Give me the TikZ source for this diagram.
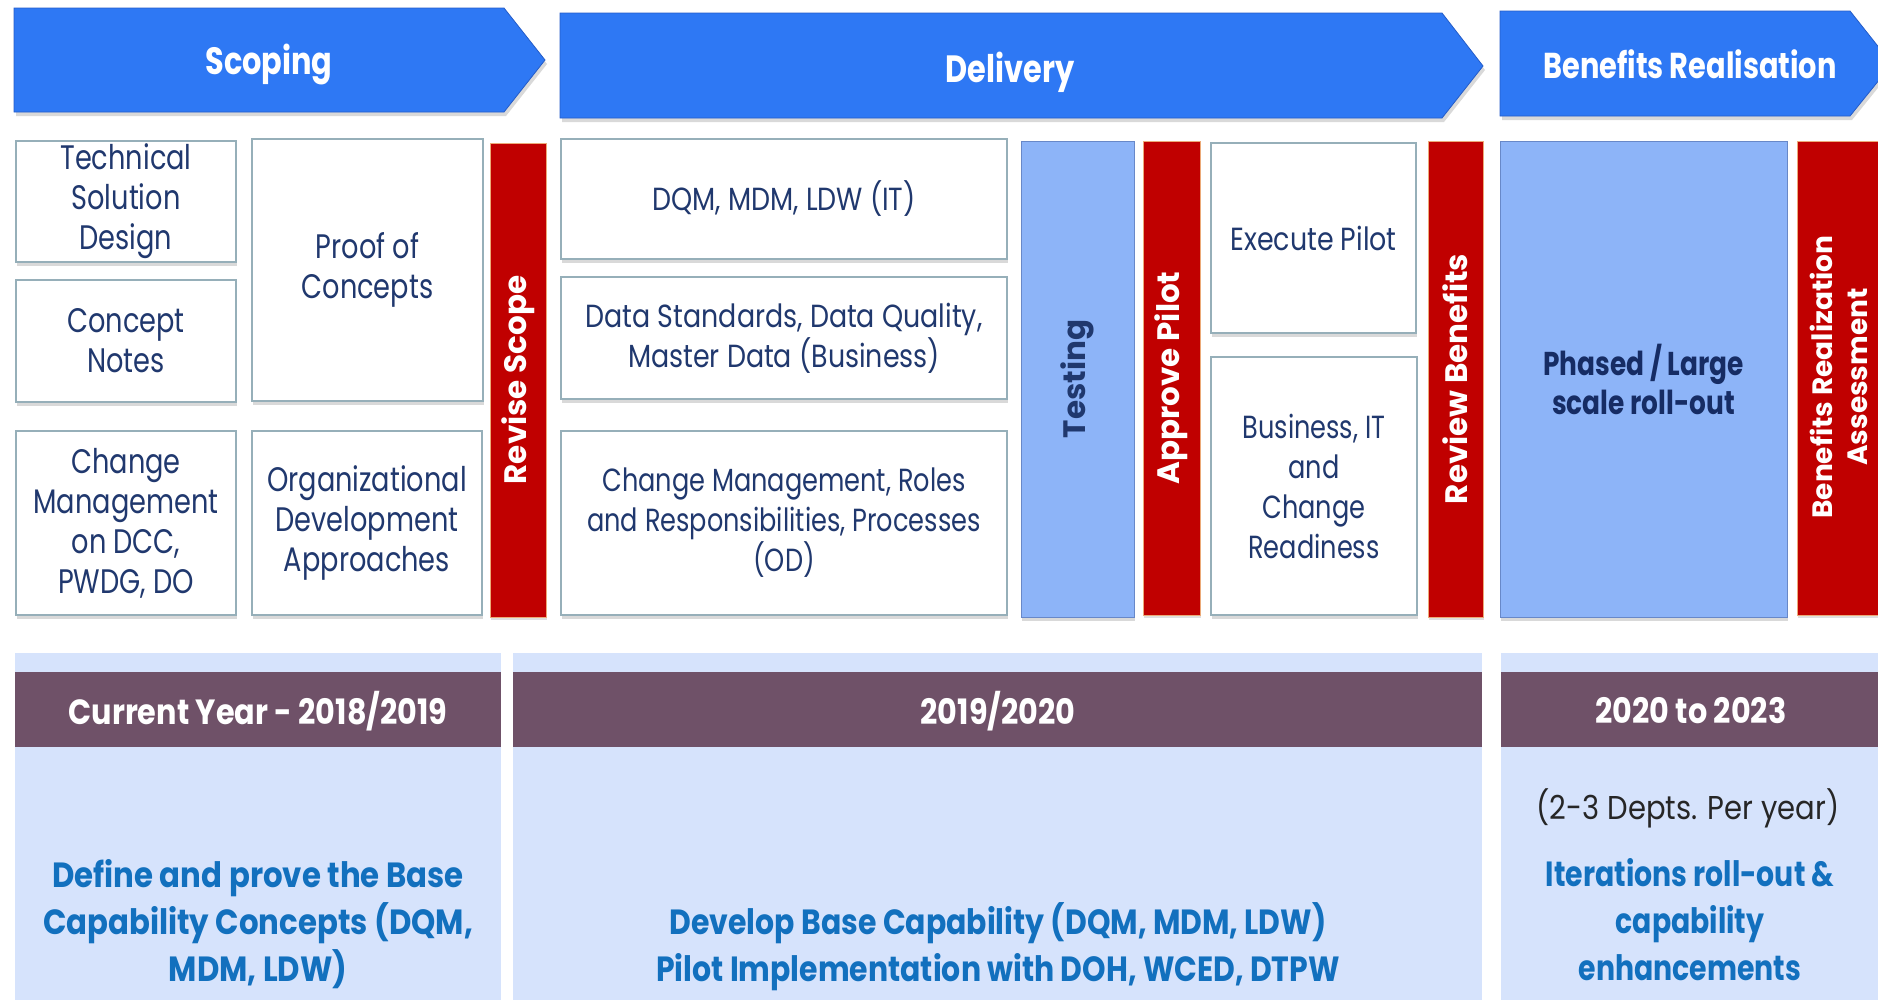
\documentclass[tikz,border=0pt]{standalone}
\usepackage{fontspec}
\newfontfamily\pf[FakeStretch=0.8]{Poppins}
\newfontfamily\pfd[FakeStretch=0.84]{Poppins}
\newfontfamily\pfh[FakeStretch=0.865]{Poppins}
\newfontfamily\pfg[FakeStretch=0.88]{Poppins}
\newfontfamily\pfgb[FakeStretch=0.855]{Poppins}
\newfontfamily\pfgc[FakeStretch=0.81]{Poppins}
\newfontfamily\pfn{Poppins}
\usetikzlibrary{shadows}
\definecolor{arrowblue}{RGB}{46,120,244}
\definecolor{arrowedge}{RGB}{36,92,200}
\definecolor{barred}{RGB}{192,0,0}
\definecolor{baredge}{RGB}{236,170,120}
\definecolor{lightbar}{RGB}{141,180,248}
\definecolor{lightbaredge}{RGB}{104,136,200}
\definecolor{boxedge}{RGB}{150,175,185}
\definecolor{navy}{RGB}{32,56,110}
\definecolor{darknavy}{RGB}{22,44,100}
\definecolor{panelblue}{RGB}{214,227,252}
\definecolor{mauve}{RGB}{111,81,104}
\definecolor{textblue}{RGB}{18,112,190}
\begin{document}
\begin{tikzpicture}[x=1pt,y=-1pt,
  phase/.style={fill=arrowblue, draw=arrowedge, line width=0.8pt,
    drop shadow={shadow xshift=2pt, shadow yshift=-4pt, opacity=0.3}},
  phasetext/.style={text=white, font=\pf\bfseries\fontsize{38}{44}\selectfont, inner sep=0pt, anchor=base},
  wbox/.style={draw=boxedge, line width=1.6pt, fill=white, inner sep=0pt, align=center,
    text=navy, font=\pf\fontsize{34}{40}\selectfont,
    drop shadow={shadow xshift=1pt, shadow yshift=-4pt, opacity=0.3}},
  dbox/.style={wbox, font=\pfd\fontsize{32}{40}\selectfont},
  redbar/.style={fill=barred, draw=baredge, line width=1pt, inner sep=0pt,
    drop shadow={shadow xshift=1pt, shadow yshift=-3pt, opacity=0.25}},
  lbar/.style={fill=lightbar, draw=lightbaredge, line width=1pt, inner sep=0pt,
    drop shadow={shadow xshift=1pt, shadow yshift=-4pt, opacity=0.3}},
  vlabel/.style={rotate=90, inner sep=0pt, align=center, font=\pfn\bfseries\fontsize{31}{37}\selectfont},
  panel/.style={fill=panelblue, draw=none},
  yearbar/.style={fill=mauve, draw=none},
  yeartext/.style={text=white, font=\pfh\bfseries\fontsize{35}{42}\selectfont, inner sep=0pt},
  goal/.style={text=textblue, align=center, inner sep=0pt, font=\pfg\bfseries\fontsize{35}{47}\selectfont}
]
\useasboundingbox (0,0) rectangle (1878,999);
\clip (0,0) rectangle (1878,999);

% phase arrows
\path[phase] (14,8) -- (504,8) -- (545,60) -- (504,112) -- (14,112) -- cycle;
\node[phasetext] (scoping) at (269,74) {Scoping};
\path[phase] (560,13) -- (1442,13) -- (1483,66) -- (1442,118) -- (560,118) -- cycle;
\node[phasetext] (delivery) at (1010,82) {Delivery};
\path[phase] (1500,11) -- (1850,11) -- (1892,64) -- (1850,116) -- (1500,116) -- cycle;
\node[phasetext, font=\pf\bfseries\fontsize{36}{42}\selectfont] (benefits) at (1690,78) {Benefits Realisation};

% scoping boxes
\node[wbox, minimum width=220, minimum height=121] (tech) at (126,201.5) {Technical\\Solution\\Design};
\node[wbox, minimum width=220, minimum height=122] (concept) at (126,341) {Concept\\Notes};
\node[wbox, minimum width=231, minimum height=262] (proof) at (367.5,270) {Proof of\\Concepts};
\node[wbox, minimum width=220, minimum height=184] (chgmgmt) at (126,523) {Change\\Management\\on DCC,\\PWDG, DO};
\node[wbox, minimum width=230, minimum height=184] (org) at (367,523) {Organizational\\Development\\Approaches};
\node[redbar, minimum width=56, minimum height=474] (revise) at (518,380) {};
\node[vlabel, text=white] (reviset) at (revise.center) {Revise Scope};

% delivery boxes
\node[dbox, minimum width=446, minimum height=120] (dqm) at (784,199) {DQM, MDM, LDW (IT)};
\node[dbox, minimum width=446, minimum height=122] (datastd) at (784,338) {Data Standards, Data Quality,\\Master Data (Business)};
\node[dbox, font=\pf\fontsize{32}{40}\selectfont, minimum width=446, minimum height=184] (chgroles) at (784,523) {Change Management, Roles\\and Responsibilities, Processes\\(OD)};
\node[lbar, minimum width=113, minimum height=476] (testing) at (1077.5,379) {};
\node[vlabel, text=navy] (testingt) at (testing.center) {Testing};
\node[redbar, minimum width=57, minimum height=474] (approve) at (1171.5,378) {};
\node[vlabel, text=white] (approvet) at (approve.center) {Approve Pilot};
\node[dbox, minimum width=205, minimum height=190] (execute) at (1313.5,238) {Execute Pilot};
\node[dbox, font=\pf\fontsize{32}{40}\selectfont, minimum width=206, minimum height=258] (busit) at (1314,486) {Business, IT\\and\\Change\\Readiness};
\node[redbar, minimum width=55, minimum height=476] (review) at (1455.5,379) {};
\node[vlabel, text=white] (reviewt) at (review.center) {Review Benefits};

% benefits realisation
\node[lbar, minimum width=287, minimum height=476, align=center, text=darknavy,
  font=\pf\bfseries\fontsize{33}{39}\selectfont] (phased) at (1643.5,379) {Phased / Large\\scale roll-out};
\node[redbar, minimum width=93, minimum height=474] (bra) at (1843.5,378) {};
\node[vlabel, text=white, font=\pfn\bfseries\fontsize{28}{35}\selectfont] (brat) at (1839,377) {Benefits Realization\\Assessment};

% bottom panels
\path[panel] (15,653) rectangle (501,1005);
\path[panel] (513,653) rectangle (1482,1005);
\path[panel] (1501,653) rectangle (1885,1005);
\path[yearbar] (15,672) rectangle (501,747);
\path[yearbar] (513,672) rectangle (1482,747);
\path[yearbar] (1501,672) rectangle (1885,747);
\node[yeartext] (y1) at (258,711) {Current Year - 2018/2019};
\node[yeartext] (y2) at (998,711) {2019/2020};
\node[yeartext] (y3) at (1691,711) {2020 to 2023};
\node[inner sep=0pt, text=black!85, font=\pfg\fontsize{33}{40}\selectfont] (depts) at (1688,808) {(2-3 Depts. Per year)};
\node[goal] (g1) at (258,924) {Define and prove the Base\\Capability Concepts (DQM,\\MDM, LDW)};
\node[goal, font=\pfgb\bfseries\fontsize{35}{47}\selectfont] (g2) at (998,947) {Develop Base Capability (DQM, MDM, LDW)\\Pilot Implementation with DOH, WCED, DTPW};
\node[goal, font=\pfgc\bfseries\fontsize{35}{47}\selectfont] (g3) at (1690,920) {Iterations roll-out \&\\capability\\enhancements};
\end{tikzpicture}
\end{document}
